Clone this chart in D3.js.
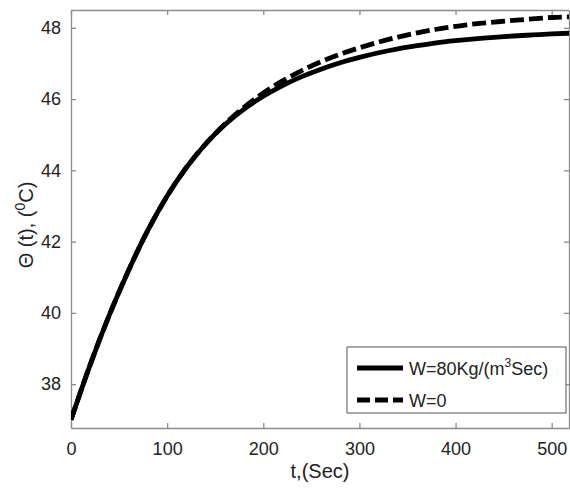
<!DOCTYPE html>
<html>
<head>
<meta charset="utf-8">
<script src="https://cdn.jsdelivr.net/npm/d3@7"></script>
<style>
  html, body { margin: 0; padding: 0; background: #fff; }
  svg { display: block; font-family: "Liberation Sans", Arial, sans-serif; }
</style>
</head>
<body>
<svg id="chart" width="570" height="488"></svg>
<script>
// ---- data ----
const timeSec = [0,20,40,60,80,100,120,140,160,180,200,220,240,260,280,300,320,340,360,380,400,420,440,460,480,500,520];
const thetaW80 = [37.00,38.55,39.95,41.20,42.32,43.28,44.08,44.74,45.28,45.72,46.08,46.38,46.63,46.84,47.02,47.17,47.30,47.41,47.50,47.58,47.64,47.69,47.73,47.77,47.80,47.83,47.85];
const thetaW0  = [37.00,38.55,39.95,41.20,42.32,43.28,44.08,44.74,45.30,45.77,46.17,46.51,46.80,47.05,47.26,47.44,47.60,47.74,47.86,47.96,48.04,48.11,48.16,48.21,48.25,48.29,48.31];
const xTicks = [0,100,200,300,400,500];
const yTicks = [38,40,42,44,46,48];
const seriesNames = ["W=80Kg/(m", "W=0"];

const svg = d3.select("#chart");
const L = 71, R = 569, T = 10, B = 428;
const x = d3.scaleLinear().domain([0, 518]).range([L, R]);
const y = d3.scaleLinear().domain([36.77, 48.5]).range([B, T]);
const axisColor = "#8c8c8c";

svg.append("defs").append("clipPath").attr("id", "clip")
  .append("rect").attr("x", L).attr("y", T).attr("width", R - L).attr("height", B - T);

// axes (box with inward ticks)
function styleAxis(g) {
  g.select(".domain").attr("stroke", axisColor).attr("stroke-width", 1.3);
  g.selectAll(".tick line").attr("stroke", axisColor).attr("stroke-width", 1.3);
  g.selectAll(".tick text").attr("fill", "#222").style("font-size", "18px");
}
svg.append("g").attr("transform", `translate(0,${B})`)
  .call(d3.axisBottom(x).tickValues(xTicks).tickSizeInner(-5).tickSizeOuter(0).tickPadding(14))
  .call(styleAxis);
svg.append("g").attr("transform", `translate(0,${T})`)
  .call(d3.axisTop(x).tickValues(xTicks).tickSizeInner(-5).tickSizeOuter(0).tickFormat(""))
  .call(styleAxis);
svg.append("g").attr("transform", `translate(${L},0)`)
  .call(d3.axisLeft(y).tickValues(yTicks).tickSizeInner(-5).tickSizeOuter(0).tickPadding(10))
  .call(styleAxis);
svg.append("g").attr("transform", `translate(${R},0)`)
  .call(d3.axisRight(y).tickValues(yTicks).tickSizeInner(-5).tickSizeOuter(0).tickFormat(""))
  .call(styleAxis);

// curves
const line = d3.line().x((d, i) => x(timeSec[i])).y(d => y(d)).curve(d3.curveMonotoneX);
const plot = svg.append("g").attr("clip-path", "url(#clip)");
plot.append("path").datum(thetaW80).attr("d", line)
  .attr("fill", "none").attr("stroke", "#000").attr("stroke-width", 4.8);
plot.append("path").datum(thetaW0).attr("d", line)
  .attr("fill", "none").attr("stroke", "#000").attr("stroke-width", 4.8)
  .attr("stroke-dasharray", "14,5");

// axis labels
svg.append("text").attr("x", (L + R) / 2).attr("y", 478).attr("text-anchor", "middle")
  .style("font-size", "20px").attr("fill", "#222").text("t,(Sec)");
const yl = svg.append("text").attr("transform", "translate(33,225) rotate(-90)")
  .attr("text-anchor", "middle").style("font-size", "20px").attr("fill", "#222");
yl.append("tspan").text("\u0398 (t), (");
yl.append("tspan").attr("dy", -8).style("font-size", "14px").text("0");
yl.append("tspan").attr("dy", 8).text("C)");

// legend
const lg = svg.append("g");
lg.append("rect").attr("x", 347).attr("y", 347).attr("width", 219).attr("height", 66)
  .attr("fill", "#fff").attr("stroke", "#555").attr("stroke-width", 1);
lg.append("line").attr("x1", 357).attr("x2", 403).attr("y1", 368).attr("y2", 368)
  .attr("stroke", "#000").attr("stroke-width", 4.8);
lg.append("line").attr("x1", 357).attr("x2", 403).attr("y1", 400).attr("y2", 400)
  .attr("stroke", "#000").attr("stroke-width", 4.8).attr("stroke-dasharray", "13,5");
const t1 = lg.append("text").attr("x", 409).attr("y", 375).style("font-size", "18px").attr("fill", "#222");
t1.append("tspan").text(seriesNames[0]);
t1.append("tspan").attr("dy", -8).style("font-size", "12px").text("3");
t1.append("tspan").attr("dy", 8).text("Sec)");
lg.append("text").attr("x", 409).attr("y", 407).style("font-size", "18px").attr("fill", "#222").text(seriesNames[1]);
</script>
</body>
</html>
